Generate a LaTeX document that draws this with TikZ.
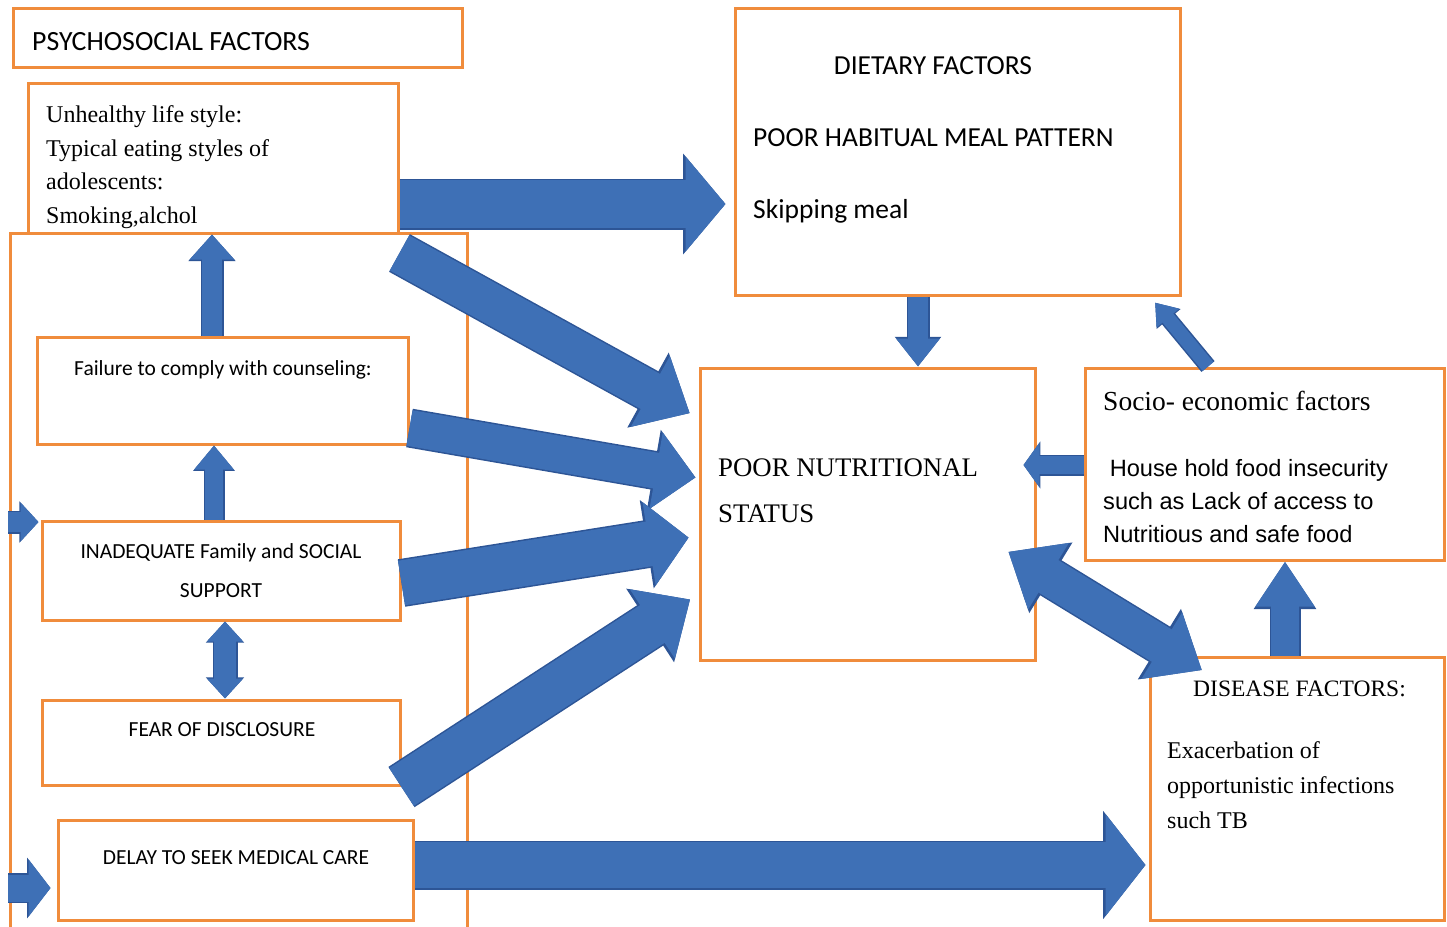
\documentclass[tikz,border=0pt]{standalone}
\usepackage{fontspec}
\usepackage{tikz}
\usetikzlibrary{positioning,calc,fit,arrows.meta}
\newfontfamily\calfont{Carlito}
\newfontfamily\timesfont{Liberation Serif}
\newfontfamily\arialfont{Liberation Sans}
\definecolor{boxorange}{RGB}{240,140,60}
\definecolor{arrowblue}{RGB}{62,112,182}
\definecolor{arrowedge}{RGB}{45,85,150}
\tikzset{
    box/.style={draw=boxorange, line width=3pt, fill=white, inner sep=0pt},
    lbl/.style={inner sep=0pt},
    blockarrow/.style args={#1/#2/#3}{draw=arrowblue, line width=#1, -{Triangle[length=#2, width=#3]},
        preaction={draw=arrowedge, line width=#1+3pt, -{Triangle[length=#2, width=#3, scale=1.06]}}},
    dblarrow/.style args={#1/#2/#3}{draw=arrowblue, line width=#1, {Triangle[length=#2, width=#3]}-{Triangle[length=#2, width=#3]},
        preaction={draw=arrowedge, line width=#1+3pt, {Triangle[length=#2, width=#3, scale=1.06]}-{Triangle[length=#2, width=#3, scale=1.06]}}},
}
\begin{document}
\begin{tikzpicture}[x=1pt, y=-1pt]
    \useasboundingbox (0,0) rectangle (1447,926);
    % boxes
    \node [box, fit={(13,8) (462,67)}] (title) {};
    \node [box, fit={(10,233) (467,930)}] (group) {}; % open at the bottom
    \node [box, fit={(28,83) (398,233)}] (unh) {};
    \node [box, fit={(37,337) (408,444)}] (fail) {};
    \node [box, fit={(42,521) (400,620)}] (inad) {};
    \node [box, fit={(42,700) (400,785)}] (fear) {};
    \node [box, fit={(58,820) (413,920)}] (delay) {};
    \node [box, fit={(735,8) (1180,295)}] (diet) {};
    \node [box, fit={(700,368) (1035,660)}] (poor) {};
    \node [box, fit={(1085,368) (1444,560)}] (socio) {};
    \node [box, fit={(1150,657) (1444,920)}] (dis) {};
    \coordinate (inL) at (8,522);
    \coordinate (dlL) at (8,888);

    % arrows
    \draw [blockarrow=48pt/40pt/93pt, shorten >=8pt] (unh.east |- 0,204) -- (diet.west |- 0,204);
    \draw [blockarrow=40pt/45pt/78pt, shorten >=10pt] (unh.east |- 0,253) -- (poor.west |- 0,418);
    \draw [blockarrow=36pt/40pt/75pt, shorten >=3pt] (fail.east |- 0,428) -- (poor.west |- 0,478);
    \draw [blockarrow=45pt/40pt/82pt, shorten >=10pt] (inad.east |- 0,583) -- (poor.west |- 0,536);
    \draw [blockarrow=45pt/45pt/80pt, shorten >=10pt] (fear.east |- 0,787) -- (poor.west |- 0,594);
    \draw [blockarrow=46pt/40pt/100pt, shorten >=3pt] (delay.east |- 0,865) -- (dis.west |- 0,865);
    \draw [blockarrow=20pt/28pt/42pt] (diet.south -| 918,0) -- (poor.north -| 918,0);
    \draw [blockarrow=14pt/20pt/28pt, shorten >=8pt] (socio.north -| 1208,0) -- (diet.south -| 1150,0);
    \draw [blockarrow=18pt/16pt/44pt, shorten >=-13pt] (socio.west |- 0,465) -- (poor.east |- 0,465);
    \draw [dblarrow=38pt/47pt/75pt, shorten <=-33pt, shorten >=-28pt] (poor.east |- 0,569) -- (dis.north -| 1178,0);
    \draw [blockarrow=28pt/45pt/56pt] (dis.north -| 1285,0) -- (socio.south -| 1285,0);
    \draw [blockarrow=20pt/25pt/43pt] (fail.north -| 212,0) -- (unh.south -| 212,0);
    \draw [blockarrow=18pt/24pt/38pt] (inad.north -| 214,0) -- (fail.south -| 214,0);
    \draw [dblarrow=22pt/20pt/35pt] (inad.south -| 225,0) -- (fear.north -| 225,0);
    \draw [blockarrow=20pt/18pt/38pt, shorten >=2pt] (inL) -- (inad.west |- inL);
    \draw [blockarrow=27pt/22pt/56pt, shorten >=6pt] (dlL) -- (delay.west |- dlL);

    % texts (multi-line nodes sit on their last line)
    \node [lbl, anchor=base west, font=\calfont\fontsize{27.8}{32}\selectfont] (ttitle) at (32,50) {PSYCHOSOCIAL FACTORS};
    \node [lbl, anchor=base west, align=left, font=\timesfont\fontsize{24}{33.5}\selectfont] (tunh) at (46,223)
        {Unhealthy life style:\\Typical eating styles of\\adolescents:\\Smoking,alchol};
    \node [lbl, anchor=base, font=\calfont\fontsize{21.5}{26}\selectfont] (tfail) at (223,375) {Failure to comply with counseling:};
    \node [lbl, anchor=base, align=center, font=\calfont\fontsize{21.5}{39}\selectfont] (tinad) at (221,597)
        {INADEQUATE Family and SOCIAL\\SUPPORT};
    \node [lbl, anchor=base, font=\calfont\fontsize{21.5}{26}\selectfont] (tfear) at (222,736) {FEAR OF DISCLOSURE};
    \node [lbl, anchor=base, font=\calfont\fontsize{21.5}{26}\selectfont] (tdelay) at (236,864) {DELAY TO SEEK MEDICAL CARE};
    \node [lbl, anchor=base, font=\calfont\fontsize{27.5}{33}\selectfont] (tdiet) at (933,74) {DIETARY FACTORS};
    \node [lbl, anchor=base west, font=\calfont\fontsize{27.5}{33}\selectfont] (tmeal) at (753,146) {POOR HABITUAL MEAL PATTERN};
    \node [lbl, anchor=base west, font=\calfont\fontsize{27.5}{33}\selectfont] (tskip) at (753,218) {Skipping meal};
    \node [lbl, anchor=base west, align=left, font=\timesfont\fontsize{26.8}{46}\selectfont] (tpoor) at (718,522)
        {POOR NUTRITIONAL\\STATUS};
    \node [lbl, anchor=base west, font=\timesfont\fontsize{27.5}{33}\selectfont] (tsocio) at (1103,410) {Socio- economic factors};
    \node [lbl, anchor=base west, align=left, font=\arialfont\fontsize{23.6}{33}\selectfont] (thouse) at (1103,542)
        {\ House hold food insecurity\\such as Lack of access to\\Nutritious and safe food};
    \node [lbl, anchor=base west, font=\timesfont\fontsize{23.5}{28}\selectfont] (tdis) at (1193,696) {DISEASE FACTORS:};
    \node [lbl, anchor=base west, align=left, font=\timesfont\fontsize{24}{35}\selectfont] (texac) at (1167,828)
        {Exacerbation of\\opportunistic infections\\such TB};
\end{tikzpicture}
\end{document}
